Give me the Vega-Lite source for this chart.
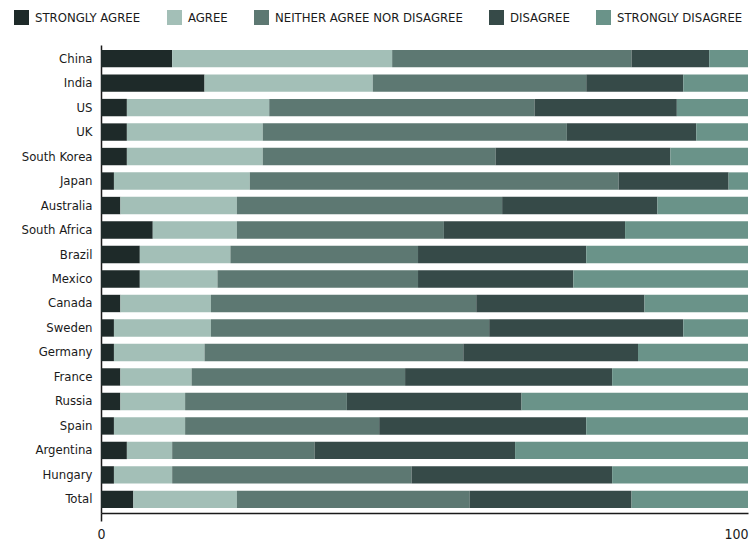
{
  "$schema": "https://vega.github.io/schema/vega-lite/v6.json",
  "width": 647,
  "height": 468,
  "autosize": "none",
  "padding": {"left": 101, "top": 45, "right": 2, "bottom": 33},
  "background": "white",
  "config": {
    "font": "DejaVu Sans Condensed",
    "view": {"stroke": null}
  },
  "data": {
    "values": [
      {"country": "China", "response": "STRONGLY AGREE", "value": 11},
      {"country": "China", "response": "AGREE", "value": 34},
      {"country": "China", "response": "NEITHER AGREE NOR DISAGREE", "value": 37},
      {"country": "China", "response": "DISAGREE", "value": 12},
      {"country": "China", "response": "STRONGLY DISAGREE", "value": 6},
      {"country": "India", "response": "STRONGLY AGREE", "value": 16},
      {"country": "India", "response": "AGREE", "value": 26},
      {"country": "India", "response": "NEITHER AGREE NOR DISAGREE", "value": 33},
      {"country": "India", "response": "DISAGREE", "value": 15},
      {"country": "India", "response": "STRONGLY DISAGREE", "value": 10},
      {"country": "US", "response": "STRONGLY AGREE", "value": 4},
      {"country": "US", "response": "AGREE", "value": 22},
      {"country": "US", "response": "NEITHER AGREE NOR DISAGREE", "value": 41},
      {"country": "US", "response": "DISAGREE", "value": 22},
      {"country": "US", "response": "STRONGLY DISAGREE", "value": 11},
      {"country": "UK", "response": "STRONGLY AGREE", "value": 4},
      {"country": "UK", "response": "AGREE", "value": 21},
      {"country": "UK", "response": "NEITHER AGREE NOR DISAGREE", "value": 47},
      {"country": "UK", "response": "DISAGREE", "value": 20},
      {"country": "UK", "response": "STRONGLY DISAGREE", "value": 8},
      {"country": "South Korea", "response": "STRONGLY AGREE", "value": 4},
      {"country": "South Korea", "response": "AGREE", "value": 21},
      {"country": "South Korea", "response": "NEITHER AGREE NOR DISAGREE", "value": 36},
      {"country": "South Korea", "response": "DISAGREE", "value": 27},
      {"country": "South Korea", "response": "STRONGLY DISAGREE", "value": 12},
      {"country": "Japan", "response": "STRONGLY AGREE", "value": 2},
      {"country": "Japan", "response": "AGREE", "value": 21},
      {"country": "Japan", "response": "NEITHER AGREE NOR DISAGREE", "value": 57},
      {"country": "Japan", "response": "DISAGREE", "value": 17},
      {"country": "Japan", "response": "STRONGLY DISAGREE", "value": 3},
      {"country": "Australia", "response": "STRONGLY AGREE", "value": 3},
      {"country": "Australia", "response": "AGREE", "value": 18},
      {"country": "Australia", "response": "NEITHER AGREE NOR DISAGREE", "value": 41},
      {"country": "Australia", "response": "DISAGREE", "value": 24},
      {"country": "Australia", "response": "STRONGLY DISAGREE", "value": 14},
      {"country": "South Africa", "response": "STRONGLY AGREE", "value": 8},
      {"country": "South Africa", "response": "AGREE", "value": 13},
      {"country": "South Africa", "response": "NEITHER AGREE NOR DISAGREE", "value": 32},
      {"country": "South Africa", "response": "DISAGREE", "value": 28},
      {"country": "South Africa", "response": "STRONGLY DISAGREE", "value": 19},
      {"country": "Brazil", "response": "STRONGLY AGREE", "value": 6},
      {"country": "Brazil", "response": "AGREE", "value": 14},
      {"country": "Brazil", "response": "NEITHER AGREE NOR DISAGREE", "value": 29},
      {"country": "Brazil", "response": "DISAGREE", "value": 26},
      {"country": "Brazil", "response": "STRONGLY DISAGREE", "value": 25},
      {"country": "Mexico", "response": "STRONGLY AGREE", "value": 6},
      {"country": "Mexico", "response": "AGREE", "value": 12},
      {"country": "Mexico", "response": "NEITHER AGREE NOR DISAGREE", "value": 31},
      {"country": "Mexico", "response": "DISAGREE", "value": 24},
      {"country": "Mexico", "response": "STRONGLY DISAGREE", "value": 27},
      {"country": "Canada", "response": "STRONGLY AGREE", "value": 3},
      {"country": "Canada", "response": "AGREE", "value": 14},
      {"country": "Canada", "response": "NEITHER AGREE NOR DISAGREE", "value": 41},
      {"country": "Canada", "response": "DISAGREE", "value": 26},
      {"country": "Canada", "response": "STRONGLY DISAGREE", "value": 16},
      {"country": "Sweden", "response": "STRONGLY AGREE", "value": 2},
      {"country": "Sweden", "response": "AGREE", "value": 15},
      {"country": "Sweden", "response": "NEITHER AGREE NOR DISAGREE", "value": 43},
      {"country": "Sweden", "response": "DISAGREE", "value": 30},
      {"country": "Sweden", "response": "STRONGLY DISAGREE", "value": 10},
      {"country": "Germany", "response": "STRONGLY AGREE", "value": 2},
      {"country": "Germany", "response": "AGREE", "value": 14},
      {"country": "Germany", "response": "NEITHER AGREE NOR DISAGREE", "value": 40},
      {"country": "Germany", "response": "DISAGREE", "value": 27},
      {"country": "Germany", "response": "STRONGLY DISAGREE", "value": 17},
      {"country": "France", "response": "STRONGLY AGREE", "value": 3},
      {"country": "France", "response": "AGREE", "value": 11},
      {"country": "France", "response": "NEITHER AGREE NOR DISAGREE", "value": 33},
      {"country": "France", "response": "DISAGREE", "value": 32},
      {"country": "France", "response": "STRONGLY DISAGREE", "value": 21},
      {"country": "Russia", "response": "STRONGLY AGREE", "value": 3},
      {"country": "Russia", "response": "AGREE", "value": 10},
      {"country": "Russia", "response": "NEITHER AGREE NOR DISAGREE", "value": 25},
      {"country": "Russia", "response": "DISAGREE", "value": 27},
      {"country": "Russia", "response": "STRONGLY DISAGREE", "value": 35},
      {"country": "Spain", "response": "STRONGLY AGREE", "value": 2},
      {"country": "Spain", "response": "AGREE", "value": 11},
      {"country": "Spain", "response": "NEITHER AGREE NOR DISAGREE", "value": 30},
      {"country": "Spain", "response": "DISAGREE", "value": 32},
      {"country": "Spain", "response": "STRONGLY DISAGREE", "value": 25},
      {"country": "Argentina", "response": "STRONGLY AGREE", "value": 4},
      {"country": "Argentina", "response": "AGREE", "value": 7},
      {"country": "Argentina", "response": "NEITHER AGREE NOR DISAGREE", "value": 22},
      {"country": "Argentina", "response": "DISAGREE", "value": 31},
      {"country": "Argentina", "response": "STRONGLY DISAGREE", "value": 36},
      {"country": "Hungary", "response": "STRONGLY AGREE", "value": 2},
      {"country": "Hungary", "response": "AGREE", "value": 9},
      {"country": "Hungary", "response": "NEITHER AGREE NOR DISAGREE", "value": 37},
      {"country": "Hungary", "response": "DISAGREE", "value": 31},
      {"country": "Hungary", "response": "STRONGLY DISAGREE", "value": 21},
      {"country": "Total", "response": "STRONGLY AGREE", "value": 5},
      {"country": "Total", "response": "AGREE", "value": 16},
      {"country": "Total", "response": "NEITHER AGREE NOR DISAGREE", "value": 36},
      {"country": "Total", "response": "DISAGREE", "value": 25},
      {"country": "Total", "response": "STRONGLY DISAGREE", "value": 18}
    ]
  },
  "transform": [
    {
      "lookup": "response",
      "from": {
        "data": {
          "values": [
            {"response": "STRONGLY AGREE", "rank": 1},
            {"response": "AGREE", "rank": 2},
            {"response": "NEITHER AGREE NOR DISAGREE", "rank": 3},
            {"response": "DISAGREE", "rank": 4},
            {"response": "STRONGLY DISAGREE", "rank": 5}
          ]
        },
        "key": "response",
        "fields": ["rank"]
      }
    }
  ],
  "mark": {"type": "bar"},
  "encoding": {
    "y": {
      "field": "country",
      "type": "nominal",
      "sort": ["China", "India", "US", "UK", "South Korea", "Japan", "Australia", "South Africa", "Brazil", "Mexico", "Canada", "Sweden", "Germany", "France", "Russia", "Spain", "Argentina", "Hungary", "Total"],
      "scale": {"paddingInner": 0.29, "paddingOuter": 0.2},
      "axis": {
        "title": null,
        "ticks": false,
        "domainColor": "#1a1a1a",
        "domainWidth": 1.5,
        "labelFontSize": 13,
        "labelColor": "#1a1a1a",
        "labelPadding": 9
      }
    },
    "x": {
      "field": "value",
      "type": "quantitative",
      "stack": "zero",
      "scale": {"domain": [0, 100], "nice": false},
      "axis": {
        "title": null,
        "values": [0, 100],
        "grid": false,
        "ticks": true,
        "tickSize": 8,
        "tickColor": {"condition": {"test": "datum.value === 100", "value": "transparent"}, "value": "#1a1a1a"},
        "tickWidth": 1.5,
        "domainColor": "#1a1a1a",
        "domainWidth": 1.5,
        "labelFontSize": 14,
        "labelColor": "#1a1a1a",
        "labelPadding": 6,
        "labelFlush": false,
        "labelAlign": {"condition": {"test": "datum.value === 100", "value": "right"}, "value": "center"}
      }
    },
    "color": {
      "field": "response",
      "type": "nominal",
      "sort": ["STRONGLY AGREE", "AGREE", "NEITHER AGREE NOR DISAGREE", "DISAGREE", "STRONGLY DISAGREE"],
      "scale": {
        "domain": ["STRONGLY AGREE", "AGREE", "NEITHER AGREE NOR DISAGREE", "DISAGREE", "STRONGLY DISAGREE"],
        "range": ["#1e2a29", "#a3bfb7", "#5d7872", "#364a48", "#6a9389"]
      },
      "legend": {
        "title": null,
        "orient": "none",
        "direction": "horizontal",
        "legendX": -87,
        "legendY": -35,
        "symbolType": "square",
        "symbolSize": 225,
        "symbolStrokeWidth": 0,
        "labelFontSize": 13,
        "labelLimit": 400,
        "labelColor": "#1a1a1a",
        "columnPadding": 26,
        "labelOffset": 6,
        "encode": {
          "symbols": {
            "update": {
              "fill": {"signal": "datum.value === 'STRONGLY AGREE' ? '#000000' : scale('color', datum.value)"}
            }
          }
        }
      }
    },
    "order": {"field": "rank", "type": "quantitative", "sort": "ascending"}
  }
}
